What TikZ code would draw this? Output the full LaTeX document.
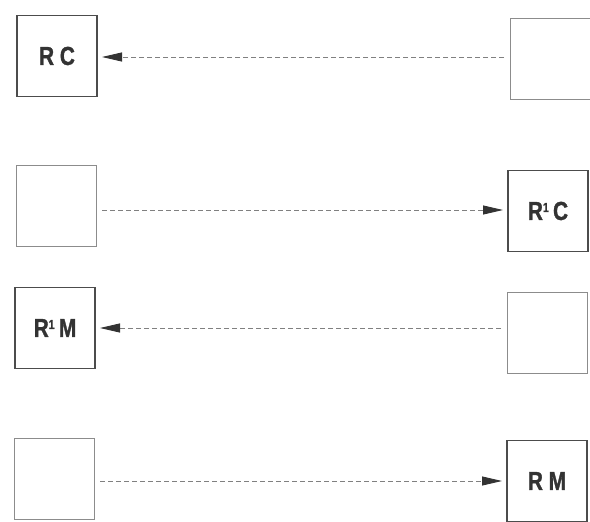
\documentclass[tikz,border=0pt]{standalone}
\usepackage{fontspec}
\usetikzlibrary{arrows.meta}
\newfontfamily\boxfont[FakeStretch=0.8,FakeBold=1.2]{Liberation Sans}
\tikzset{>={Triangle[length=20pt,width=9pt,color=black!80]}}
\newcommand{\idx}[1]{\raisebox{8pt}{\fontsize{13}{13}\selectfont #1}}

\begin{document}
\begin{tikzpicture}[x=1pt,y=-1pt,
    blank/.style={draw=black!45, line width=1pt, minimum width=80pt, minimum height=81pt, inner sep=0pt, outer sep=0pt},
    named/.style={blank, draw=black!70, line width=1.8pt, font=\boxfont\bfseries\fontsize{26}{26}\selectfont, text=black!80},
    link/.style={->, dashed, dash pattern=on 5pt off 3pt, draw=black!50, line width=0.9pt, shorten >=5pt, shorten <=6pt}]
    \useasboundingbox (0,0) rectangle (590,522);
    % left column
    \node[named] (RC) at (57,56) {R C};
    \node[blank] (L2) at (56,206) {};
    \node[named] (R2M) at (55,328) {R\idx{1}\,M};
    \node[blank] (L4) at (54,479) {};
    % right column
    \node[blank] (R1) at (550,59) {};
    \node[named] (R1C) at (548,211) {R\idx{1}\,C};
    \node[blank] (R3) at (547,333) {};
    \node[named] (RM) at (547,481) {R M};
    % arrows
    \draw[link] (R1.west |- 0,57) -- (RC.east |- 0,57);
    \draw[link] (L2.east |- 0,210) -- (R1C.west |- 0,210);
    \draw[link] (R3.west |- 0,328) -- (R2M.east |- 0,328);
    \draw[link] (L4.east |- 0,481) -- (RM.west |- 0,481);
\end{tikzpicture}
\end{document}
